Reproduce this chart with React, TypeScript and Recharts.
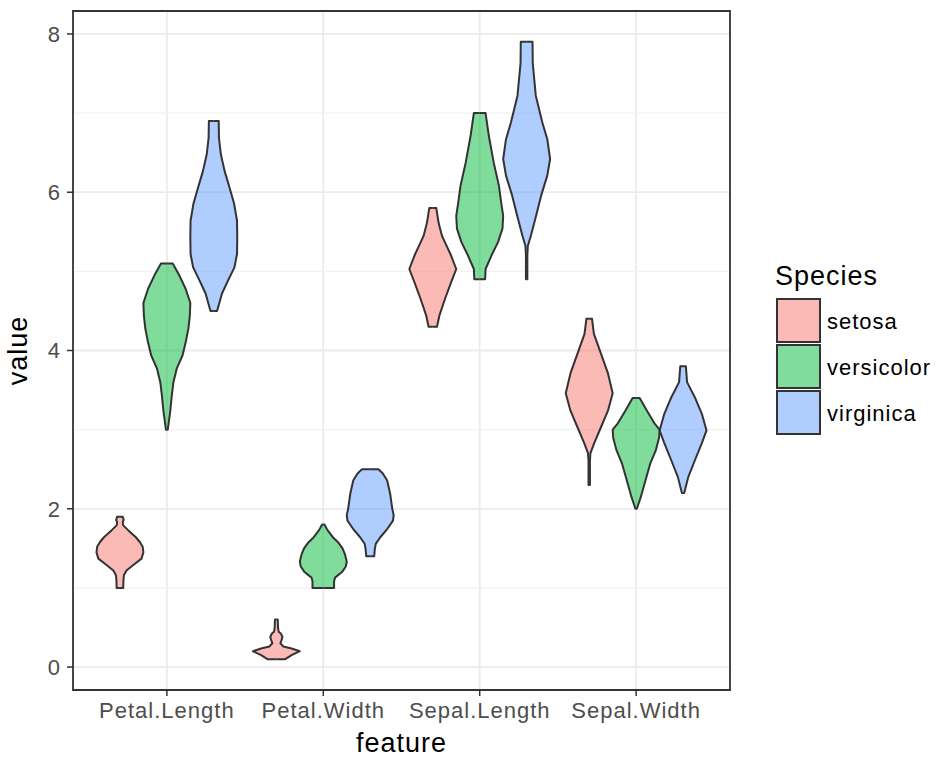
import { Area, CartesianGrid, ComposedChart, Label, ReferenceArea, ReferenceLine, XAxis, YAxis } from 'recharts'

const FEATURES = ['Petal.Length', 'Petal.Width', 'Sepal.Length', 'Sepal.Width']
const SPECIES = ['setosa', 'versicolor', 'virginica']
const COLORS = ['#F8766D', '#00BA38', '#619CFF']
const Y_TICKS = [0, 2, 4, 6, 8]
const Y_MINOR = [1, 3, 5, 7]

// violin outlines: [value, relative density (1 = widest)]
const petalLengthSetosa = [
  [1.0, 0.14], [1.1, 0.15], [1.16, 0.17], [1.22, 0.28], [1.29, 0.57], [1.37, 0.92], [1.45, 1.0],
  [1.52, 0.97], [1.58, 0.85], [1.64, 0.68], [1.73, 0.35], [1.79, 0.14], [1.83, 0.12], [1.86, 0.16], [1.9, 0.12],
]
const petalLengthVersicolor = [
  [3.0, 0.04], [3.22, 0.14], [3.43, 0.21], [3.6, 0.28], [3.77, 0.42], [3.94, 0.67], [4.1, 0.8],
  [4.28, 0.92], [4.44, 0.98], [4.6, 1.0], [4.78, 0.8], [4.95, 0.53], [5.1, 0.25],
]
const petalLengthVirginica = [
  [4.5, 0.14], [4.72, 0.35], [4.88, 0.6], [5.05, 0.88], [5.22, 0.99], [5.43, 1.0], [5.64, 0.99],
  [5.85, 0.87], [6.06, 0.67], [6.27, 0.46], [6.48, 0.3], [6.69, 0.22], [6.9, 0.21],
]
const petalWidthSetosa = [
  [0.1, 0.38], [0.15, 0.65], [0.2, 1.0], [0.235, 0.65], [0.26, 0.3], [0.3, 0.17], [0.34, 0.22],
  [0.38, 0.26], [0.42, 0.2], [0.445, 0.1], [0.5, 0.07], [0.6, 0.06],
]
const petalWidthVersicolor = [
  [1.0, 0.46], [1.08, 0.46], [1.13, 0.5], [1.2, 0.8], [1.27, 0.96], [1.33, 1.0], [1.42, 0.93],
  [1.5, 0.82], [1.57, 0.65], [1.63, 0.44], [1.73, 0.18], [1.8, 0.05],
]
const petalWidthVirginica = [
  [1.4, 0.17], [1.5, 0.2], [1.56, 0.24], [1.64, 0.43], [1.75, 0.74], [1.85, 0.97], [1.92, 1.0],
  [2.0, 0.94], [2.19, 0.85], [2.36, 0.72], [2.45, 0.53], [2.5, 0.35],
]
const sepalLengthSetosa = [
  [4.3, 0.18], [4.44, 0.28], [4.66, 0.53], [4.86, 0.78], [5.03, 1.0], [5.2, 0.78], [5.36, 0.53],
  [5.45, 0.39], [5.61, 0.25], [5.8, 0.15],
]
const sepalLengthVersicolor = [
  [4.9, 0.23], [5.03, 0.25], [5.2, 0.5], [5.37, 0.78], [5.54, 0.97], [5.7, 1.0], [5.9, 0.9],
  [6.08, 0.82], [6.37, 0.6], [6.71, 0.39], [7.0, 0.25],
]
const sepalLengthVirginica = [
  [4.9, 0.03], [5.2, 0.03], [5.32, 0.05], [5.45, 0.18], [5.7, 0.4], [5.96, 0.62], [6.21, 0.88],
  [6.42, 1.0], [6.67, 0.88], [6.88, 0.67], [7.22, 0.39], [7.63, 0.26], [7.9, 0.25],
]
const sepalWidthSetosa = [
  [2.3, 0.03], [2.6, 0.03], [2.7, 0.05], [2.82, 0.2], [3.03, 0.5], [3.24, 0.8], [3.46, 1.0],
  [3.71, 0.8], [3.96, 0.5], [4.21, 0.2], [4.4, 0.12],
]
const sepalWidthVersicolor = [
  [2.0, 0.03], [2.15, 0.2], [2.36, 0.4], [2.57, 0.6], [2.74, 0.84], [2.9, 0.98], [3.0, 1.0],
  [3.08, 0.78], [3.24, 0.46], [3.4, 0.15],
]
const sepalWidthVirginica = [
  [2.2, 0.05], [2.4, 0.22], [2.61, 0.5], [2.83, 0.8], [2.99, 1.0], [3.2, 0.8], [3.41, 0.5],
  [3.6, 0.17], [3.8, 0.12],
]

const PROFILES = [
  [petalLengthSetosa, petalLengthVersicolor, petalLengthVirginica],
  [petalWidthSetosa, petalWidthVersicolor, petalWidthVirginica],
  [sepalLengthSetosa, sepalLengthVersicolor, sepalLengthVirginica],
  [sepalWidthSetosa, sepalWidthVersicolor, sepalWidthVirginica],
]

const DODGE = 0.3
const HALF = 0.15
const FONT = '"Liberation Sans", Arial, sans-serif'

function violinRows(profile: number[][], feature: number, species: number) {
  const c = feature + 1 + (species - 1) * DODGE
  const rows = profile.map(([v, w]) => ({ v, r: [c - w * HALF, c + w * HALF] }))
  // close the flat ends so they get an outline
  return [{ v: profile[0][0], r: [c, c] }, ...rows, { v: profile[profile.length - 1][0], r: [c, c] }]
}

function Legend() {
  return (
    <svg width={170} height={200} style={{ position: 'absolute', left: 770, top: 250 }}>
      <text x={5} y={35} fontSize={27} fontFamily={FONT} fill="#000" letterSpacing={1}>
        Species
      </text>
      {SPECIES.map((s, i) => (
        <g key={s}>
          <rect x={7} y={49 + i * 46} width={43} height={43} fill="#fff" />
          <rect
            x={7}
            y={49 + i * 46}
            width={43}
            height={43}
            fill={COLORS[i]}
            fillOpacity={0.5}
            stroke="#333"
            strokeWidth={2}
          />
          <text
            x={57}
            y={49 + i * 46 + 22}
            fontSize={22}
            fontFamily={FONT}
            fill="#000"
            letterSpacing={1}
            dominantBaseline="central"
          >
            {s}
          </text>
        </g>
      ))}
    </svg>
  )
}

export default function App() {
  const tickStyle = { fill: '#4D4D4D', fontSize: 22, fontFamily: FONT, letterSpacing: 1 }

  return (
    <div style={{ position: 'absolute', left: 0, top: 0, width: 937, height: 759, background: '#fff' }}>
      <ComposedChart
        layout="vertical"
        width={937}
        height={759}
        margin={{ top: 11, right: 207, bottom: 0, left: 0 }}
      >
        <CartesianGrid stroke="#EBEBEB" strokeWidth={1.8} />
        {Y_MINOR.map((y) => (
          <ReferenceLine key={y} y={y} stroke="#F2F2F2" strokeWidth={1.2} zIndex={-50} />
        ))}
        <XAxis
          type="number"
          domain={[0.4, 4.6]}
          allowDataOverflow
          ticks={[1, 2, 3, 4]}
          interval={0}
          tickFormatter={(v: number) => FEATURES[v - 1]}
          height={69}
          axisLine={false}
          tickLine={{ stroke: '#333', strokeWidth: 1.5 }}
          tickSize={6}
          tickMargin={6}
          tick={tickStyle}
        >
          <Label value="feature" position="insideBottom" offset={7} fontSize={27} fontFamily={FONT} fill="#000" letterSpacing={1} />
        </XAxis>
        <YAxis
          type="number"
          dataKey="v"
          reversed
          domain={[-0.29, 8.29]}
          allowDataOverflow
          ticks={Y_TICKS}
          interval={0}
          width={73}
          axisLine={false}
          tickLine={{ stroke: '#333', strokeWidth: 1.5 }}
          tickSize={6}
          tickMargin={6}
          tick={tickStyle}
        >
          <Label
            content={(props: any) => {
              const vb = props.viewBox
              const cx = vb.x + 18
              const cy = vb.y + vb.height / 2
              return (
                <text
                  x={cx}
                  y={cy}
                  transform={`rotate(-90 ${cx} ${cy})`}
                  textAnchor="middle"
                  dominantBaseline="central"
                  fontSize={27}
                  fontFamily={FONT}
                  letterSpacing={1}
                  fill="#000"
                >
                  value
                </text>
              )
            }}
          />
        </YAxis>
        {PROFILES.map((group, f) =>
          group.map((profile, s) => (
            <Area
              key={`${f}-${s}`}
              data={violinRows(profile, f, s)}
              dataKey="r"
              type="linear"
              fill={COLORS[s]}
              fillOpacity={0.5}
              stroke="#333333"
              strokeWidth={2}
              strokeLinejoin="round"
              dot={false}
              activeDot={false}
              legendType="none"
              isAnimationActive={false}
            />
          )),
        )}
        <ReferenceArea
          x1={0.4}
          x2={4.6}
          y1={-0.29}
          y2={8.29}
          fill="none"
          fillOpacity={0}
          stroke="#333"
          strokeWidth={1.8}
          ifOverflow="visible"
        />
      </ComposedChart>
      <Legend />
    </div>
  )
}
